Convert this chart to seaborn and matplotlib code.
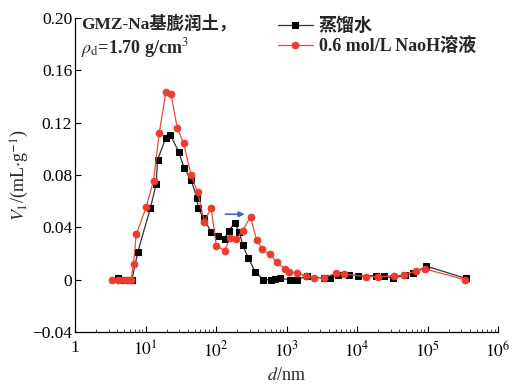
import numpy as np
import pandas as pd
import matplotlib
matplotlib.use("Agg")
import matplotlib.pyplot as plt
import seaborn as sns
from matplotlib.ticker import LogLocator, FixedLocator, FixedFormatter, NullFormatter

# ---- data ----
water_d = [4.05, 4.87, 5.73, 6.41, 7.8, 11.7, 14.2, 14.8, 19.3, 22.5, 29.5, 35.2, 44.3,
           53.9, 55.5, 67, 84.7, 107, 132, 151, 184, 215, 238, 289, 360, 469, 596, 690,
           818, 1117, 1428, 1937, 3412, 4153, 5296, 7590, 10500, 18600, 23900, 32700,
           48500, 63000, 95800, 346000]
water_v = [0.001, 0.0, 0.0, 0.0, 0.0214, 0.0545, 0.0732, 0.0915, 0.108, 0.1106, 0.0979,
           0.0856, 0.0762, 0.0622, 0.0545, 0.047, 0.0367, 0.0336, 0.0313, 0.0375, 0.043,
           0.0363, 0.0265, 0.0163, 0.006, 0.0, 0.0, 0.0005, 0.001, 0.0, 0.0, 0.0028,
           0.001, 0.001, 0.0034, 0.0036, 0.003, 0.003, 0.003, 0.001, 0.0036, 0.0048,
           0.0104, 0.001]

naoh_d = [3.33, 4.13, 4.87, 5.55, 6.26, 6.76, 7.38, 10.2, 13.0, 15.7, 19.5, 23.0, 28.3,
          34.7, 44.3, 55, 68.4, 85.2, 101, 133, 157, 195, 238, 309, 376, 454, 576, 741,
          942, 1084, 1428, 1875, 2459, 3350, 5000, 6560, 13500, 19600, 33200, 46900,
          68800, 92500, 335000]
naoh_v = [0.0, 0.0, 0.0, 0.0, 0.0, 0.012, 0.0346, 0.0553, 0.0757, 0.1124, 0.1437, 0.1417,
          0.1157, 0.1042, 0.080, 0.0667, 0.0443, 0.055, 0.026, 0.0222, 0.0316, 0.0311,
          0.0375, 0.048, 0.0303, 0.0232, 0.0193, 0.0132, 0.0082, 0.0061, 0.0051, 0.0028,
          0.0015, 0.0015, 0.0048, 0.0043, 0.0023, 0.0023, 0.0028, 0.0036, 0.0067, 0.0082,
          0.0]

series_names = ["蒸馏水", "0.6 mol/L NaoH溶液"]
y_ticks = [-0.04, 0, 0.04, 0.08, 0.12, 0.16, 0.20]
y_tick_labels = ["\u22120.04", "0", "0.04", "0.08", "0.12", "0.16", "0.20"]
x_ticks = [1, 10, 100, 1000, 1e4, 1e5, 1e6]
x_tick_labels = ["1", "$10^1$", "$10^2$", "$10^3$", "$10^4$", "$10^5$", "$10^6$"]
arrow_from = (136, 0.050)
arrow_to = (254, 0.050)

df_w = pd.DataFrame({"d": water_d, "v": water_v})
df_n = pd.DataFrame({"d": naoh_d, "v": naoh_v})

sns.set_theme(style="ticks")
plt.rcParams["font.family"] = ["Liberation Serif", "Noto Sans CJK SC"]
plt.rcParams["mathtext.fontset"] = "stix"
plt.rcParams["xtick.direction"] = "in"
plt.rcParams["ytick.direction"] = "in"

fig = plt.figure(figsize=(5.17, 3.85), dpi=100)
ax = fig.add_axes([75 / 517, 1 - 332 / 385, 423 / 517, (332 - 18) / 385])

sns.lineplot(data=df_w, x="d", y="v", ax=ax, sort=False, color="#333333", lw=0.9,
             marker="s", markersize=4.3, markerfacecolor="black", markeredgecolor="black",
             label=series_names[0], zorder=2)
sns.lineplot(data=df_n, x="d", y="v", ax=ax, sort=False, color="#f04a3a", lw=0.9,
             marker="o", markersize=4.8, markerfacecolor="#ee3b2f", markeredgecolor="#ee3b2f",
             label=series_names[1], zorder=3)

ax.set_xscale("log")
ax.set_xlim(1, 1e6)
ax.set_ylim(-0.04, 0.20)
ax.xaxis.set_major_locator(FixedLocator(x_ticks))
ax.xaxis.set_major_formatter(FixedFormatter(x_tick_labels))
ax.xaxis.set_minor_locator(LogLocator(base=10, subs=np.arange(2, 10), numticks=20))
ax.xaxis.set_minor_formatter(NullFormatter())
ax.yaxis.set_major_locator(FixedLocator(y_ticks))
ax.yaxis.set_major_formatter(FixedFormatter(y_tick_labels))
ax.tick_params(axis="both", which="major", length=4, width=0.8, labelsize=12.5,
               colors="black")
ax.tick_params(axis="x", which="major", pad=6)
ax.tick_params(axis="y", which="major", pad=2)
ax.tick_params(axis="x", which="minor", length=2.5, width=0.6)
sns.despine(ax=ax)
for s in ["left", "bottom"]:
    ax.spines[s].set_linewidth(0.9)
    ax.spines[s].set_color("black")

ax.set_xlabel("$d$/nm", fontsize=13, labelpad=5)
ax.set_ylabel("$V_1$/(mL$\\cdot$g$^{-1}$)", fontsize=13, labelpad=1)

ax.annotate("", xy=arrow_to, xytext=arrow_from,
            arrowprops=dict(arrowstyle="-|>", color="#3b63c4", lw=1.2,
                            mutation_scale=8, shrinkA=0, shrinkB=0))

ax.text(0.015, 1.008, "GMZ-Na基膨润土，", transform=ax.transAxes, fontsize=12.5,
        fontweight="bold", va="top", ha="left")
ax.text(0.015, 0.942, "$\\rho_{\\rm d}$=1.70 g/cm$^3$", transform=ax.transAxes,
        fontsize=13, fontweight="bold", va="top", ha="left")

leg = ax.legend(loc="upper left", bbox_to_anchor=(0.455, 1.035), frameon=False,
                prop={"size": 13, "weight": "bold"}, handlelength=1.9,
                handletextpad=0.35, labelspacing=0.1, borderpad=0.1)

fig.savefig("out.png", dpi=100)
